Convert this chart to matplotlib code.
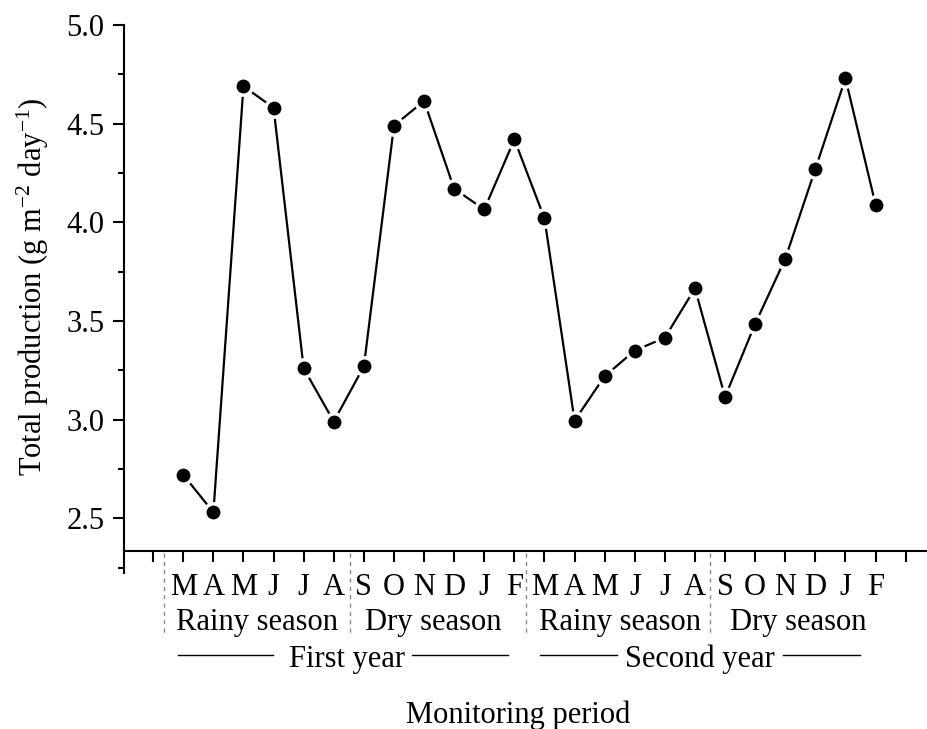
import matplotlib
matplotlib.use('Agg')
import matplotlib.pyplot as plt
from matplotlib.transforms import blended_transform_factory
from matplotlib.ticker import FixedLocator
from matplotlib.lines import Line2D

# ---- data ----
months = ['M', 'A', 'M', 'J', 'J', 'A', 'S', 'O', 'N', 'D', 'J', 'F',
          'M', 'A', 'M', 'J', 'J', 'A', 'S', 'O', 'N', 'D', 'J', 'F']
production = [2.72, 2.53, 4.69, 4.58, 3.26, 2.99, 3.27, 4.49, 4.615, 4.17, 4.065, 4.42,
              4.02, 2.995, 3.22, 3.35, 3.415, 3.665, 3.115, 3.485, 3.815, 4.27, 4.73, 4.09]
seasons = ['Rainy season', 'Dry season', 'Rainy season', 'Dry season']
season_centers = [3.45, 9.3, 15.5, 21.43]
years = ['First year', 'Second year']
year_centers = [6.44, 18.17]
year_line_spans = [[(0.82, 3.98), (8.6, 11.79)], [(12.85, 15.41), (20.92, 23.48)]]
separators = [0.36, 6.54, 12.39, 18.5]
yticks_major = [2.5, 3.0, 3.5, 4.0, 4.5, 5.0]
yticks_minor = [2.25, 2.75, 3.25, 3.75, 4.25, 4.75]

plt.rcParams['font.family'] = ['Liberation Serif', 'DejaVu Serif']
plt.rcParams['mathtext.fontset'] = 'custom'
plt.rcParams['mathtext.rm'] = 'Liberation Serif'
plt.rcParams['mathtext.it'] = 'Liberation Serif:italic'

W, H = 927, 729
fig = plt.figure(figsize=(W / 100, H / 100), dpi=100)
ax_top, ax_bot, ax_left = 25, 573.5, 124
ax = fig.add_axes([ax_left / W, 1 - ax_bot / H, 1 - ax_left / W, (ax_bot - ax_top) / H])

x = list(range(1, len(production) + 1))
ax.plot(x, production, color='black', lw=1.6, marker='o', ms=12.5,
        mfc='black', mec='white', mew=2.5, zorder=3)

ax.set_xlim(-0.97, 25.71)
ax.set_ylim(2.22, 5.0)
ax.spines['bottom'].set_position(('data', 2.333))
for s in ['top', 'right']:
    ax.spines[s].set_visible(False)
for s in ['left', 'bottom']:
    ax.spines[s].set_linewidth(1.5)

ax.set_yticks(yticks_major)
ax.set_yticklabels(['%.1f' % v for v in yticks_major])
ax.yaxis.set_minor_locator(FixedLocator(yticks_minor))
ax.set_xticks(range(0, len(months) + 2))
ax.set_xticklabels([''] + months + [''])

ax.tick_params(axis='both', which='major', direction='out', length=8, width=1.5, labelsize=22)
ax.tick_params(axis='y', which='minor', direction='out', length=4, width=1.5)
ax.tick_params(axis='y', pad=6)
ax.tick_params(axis='x', pad=7.5)

trans = blended_transform_factory(ax.transData, fig.transFigure)

for sx in separators:
    fig.add_artist(Line2D([sx, sx], [1 - 553 / H, 1 - 633 / H], transform=trans,
                          color='#888888', lw=1.0, linestyle=(0, (3, 3))))

for label, cx in zip(seasons, season_centers):
    fig.text(cx, 1 - 630 / H, label, transform=trans, ha='center', va='baseline', fontsize=22)

for label, cx, spans in zip(years, year_centers, year_line_spans):
    fig.text(cx, 1 - 667 / H, label, transform=trans, ha='center', va='baseline', fontsize=22)
    for a, b in spans:
        fig.add_artist(Line2D([a, b], [1 - 655 / H, 1 - 655 / H], transform=trans,
                              color='black', lw=1.0))

fig.text(518.5 / W, 1 - 723 / H, 'Monitoring period', ha='center', va='baseline', fontsize=22)
fig.text(33 / W, 1 - 287 / H, 'Total production (g m$^{\\mathrm{-2}}$ day$^{\\mathrm{-1}}$)', rotation=90,
         ha='center', va='center', fontsize=22)

fig.savefig('out.png', dpi=100)
